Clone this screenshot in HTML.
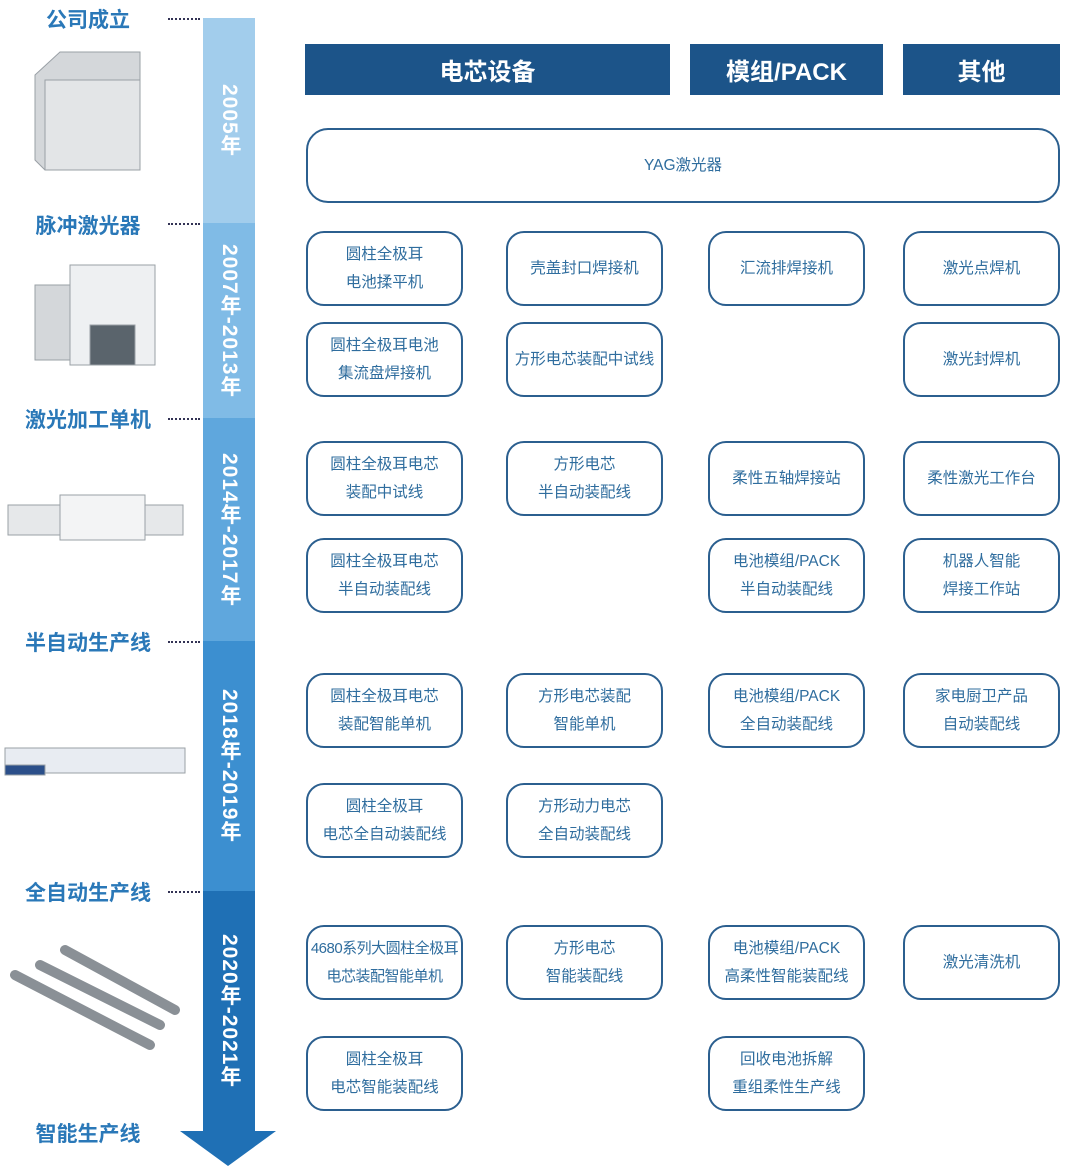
<!DOCTYPE html>
<html><head><meta charset="utf-8"><style>
body{margin:0;width:1070px;height:1174px;background:#fff;position:relative;overflow:hidden;font-family:"Liberation Sans","Noto Sans CJK SC",sans-serif}
.h{position:absolute;background:#1c5489;color:#fff;font-weight:bold;font-size:24px;display:flex;align-items:center;justify-content:center;top:44px;height:51px}
.b{position:absolute;border:2px solid #2b5f8f;border-radius:18px;box-sizing:border-box;color:#2f6d9e;font-size:15.5px;line-height:28px;display:flex;align-items:center;justify-content:center;text-align:center;width:157px;height:75px}
.l{position:absolute;color:#2a78b8;font-weight:bold;font-size:21px;width:176px;text-align:center;left:0}
.d{position:absolute;left:168px;width:32px;border-top:2px dotted #335;}
.y{position:absolute;left:203px;width:52px;color:#fff;font-weight:bold;font-size:21px;letter-spacing:1px;writing-mode:vertical-rl;display:flex;align-items:center;justify-content:center}
</style></head><body>
<svg width="1070" height="1174" style="position:absolute;left:0;top:0">
<rect x="203" y="18" width="52" height="205" fill="#a2cdec"/>
<rect x="203" y="223" width="52" height="195" fill="#80bbe6"/>
<rect x="203" y="418" width="52" height="223" fill="#5fa7dd"/>
<rect x="203" y="641" width="52" height="250" fill="#3c8fd0"/>
<rect x="203" y="891" width="52" height="240" fill="#1f70b5"/>
<polygon points="180,1131 276,1131 228,1166" fill="#1f70b5"/>
<g fill="#d4d7da" stroke="#9aa0a6">
<polygon points="35,75 60,52 140,52 140,170 45,170 35,160"/>
<rect x="45" y="80" width="95" height="90" fill="#e3e5e7"/>
<rect x="35" y="285" width="55" height="75"/>
<rect x="70" y="265" width="85" height="100" fill="#eef0f2"/>
<rect x="90" y="325" width="45" height="40" fill="#5a646c"/>
<rect x="8" y="505" width="175" height="30" fill="#e6e8ea"/>
<rect x="60" y="495" width="85" height="45" fill="#f3f4f5"/>
<rect x="5" y="748" width="180" height="25" fill="#e8ecf2"/>
<rect x="5" y="765" width="40" height="10" fill="#2b4f8a"/>
</g>
<g stroke="#8a9096" stroke-width="10" stroke-linecap="round">
<line x1="15" y1="975" x2="150" y2="1045"/>
<line x1="40" y1="965" x2="160" y2="1025"/>
<line x1="65" y1="950" x2="175" y2="1010"/>
</g>
</svg>
<div class="l" style="top:4px">公司成立</div><div class="d" style="top:18px"></div>
<div class="l" style="top:210px">脉冲激光器</div><div class="d" style="top:223px"></div>
<div class="l" style="top:404px">激光加工单机</div><div class="d" style="top:418px"></div>
<div class="l" style="top:627px">半自动生产线</div><div class="d" style="top:641px"></div>
<div class="l" style="top:877px">全自动生产线</div><div class="d" style="top:891px"></div>
<div class="l" style="top:1118px">智能生产线</div>
<div class="y" style="top:18px;height:205px">2005年</div>
<div class="y" style="top:223px;height:195px">2007年-2013年</div>
<div class="y" style="top:418px;height:223px">2014年-2017年</div>
<div class="y" style="top:641px;height:250px">2018年-2019年</div>
<div class="y" style="top:891px;height:240px">2020年-2021年</div>
<div class="h" style="left:305px;width:365px">电芯设备</div>
<div class="h" style="left:690px;width:193px">模组/PACK</div>
<div class="h" style="left:903px;width:157px">其他</div>
<div class="b" style="left:306px;top:128px;width:754px;height:75px;border-radius:22px">YAG激光器</div>
<div class="b" style="left:306px;top:231px">圆柱全极耳<br>电池揉平机</div>
<div class="b" style="left:506px;top:231px">壳盖封口焊接机</div>
<div class="b" style="left:708px;top:231px">汇流排焊接机</div>
<div class="b" style="left:903px;top:231px">激光点焊机</div>
<div class="b" style="left:306px;top:322px">圆柱全极耳电池<br>集流盘焊接机</div>
<div class="b" style="left:506px;top:322px">方形电芯装配中试线</div>
<div class="b" style="left:903px;top:322px">激光封焊机</div>
<div class="b" style="left:306px;top:441px">圆柱全极耳电芯<br>装配中试线</div>
<div class="b" style="left:506px;top:441px">方形电芯<br>半自动装配线</div>
<div class="b" style="left:708px;top:441px">柔性五轴焊接站</div>
<div class="b" style="left:903px;top:441px">柔性激光工作台</div>
<div class="b" style="left:306px;top:538px">圆柱全极耳电芯<br>半自动装配线</div>
<div class="b" style="left:708px;top:538px">电池模组/PACK<br>半自动装配线</div>
<div class="b" style="left:903px;top:538px">机器人智能<br>焊接工作站</div>
<div class="b" style="left:306px;top:673px">圆柱全极耳电芯<br>装配智能单机</div>
<div class="b" style="left:506px;top:673px">方形电芯装配<br>智能单机</div>
<div class="b" style="left:708px;top:673px">电池模组/PACK<br>全自动装配线</div>
<div class="b" style="left:903px;top:673px">家电厨卫产品<br>自动装配线</div>
<div class="b" style="left:306px;top:783px">圆柱全极耳<br>电芯全自动装配线</div>
<div class="b" style="left:506px;top:783px">方形动力电芯<br>全自动装配线</div>
<div class="b" style="left:306px;top:925px;font-size:15px;letter-spacing:-0.5px">4680系列大圆柱全极耳<br>电芯装配智能单机</div>
<div class="b" style="left:506px;top:925px">方形电芯<br>智能装配线</div>
<div class="b" style="left:708px;top:925px">电池模组/PACK<br>高柔性智能装配线</div>
<div class="b" style="left:903px;top:925px">激光清洗机</div>
<div class="b" style="left:306px;top:1036px">圆柱全极耳<br>电芯智能装配线</div>
<div class="b" style="left:708px;top:1036px">回收电池拆解<br>重组柔性生产线</div>
</body></html>
